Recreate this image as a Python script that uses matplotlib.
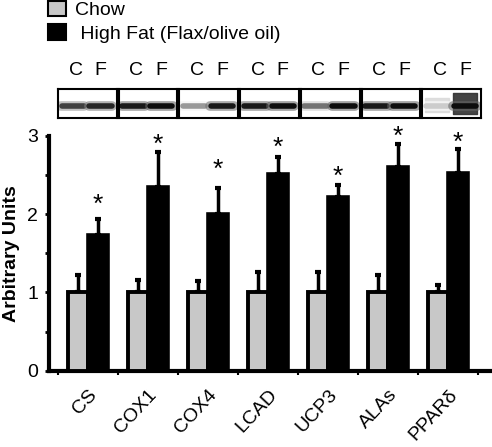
import numpy as np
import matplotlib
matplotlib.use("Agg")
import matplotlib.pyplot as plt
from matplotlib.patches import Patch

plt.rcParams['font.family'] = ['Liberation Sans', 'DejaVu Sans']

# data
genes = ['CS', 'COX1', 'COX4', 'LCAD', 'UCP3', 'ALAs', 'PPAR\u03b4']
chow = [1.0, 1.0, 1.0, 1.0, 1.0, 1.01, 1.0]
chow_err = [0.22, 0.16, 0.14, 0.26, 0.26, 0.21, 0.09]
high_fat = [1.73, 2.34, 2.0, 2.51, 2.22, 2.60, 2.52]
high_fat_err = [0.21, 0.45, 0.33, 0.22, 0.15, 0.30, 0.31]
star_y = [2.12, 2.88, 2.56, 2.84, 2.48, 2.98, 2.91]

# western blot band darkness (0 = none, 1 = black), chow lane / fat lane
band_chow = [0.75, 0.9, 0.4, 0.9, 0.55, 0.9, 0.2]
band_fat = [0.85, 0.95, 0.9, 0.95, 0.95, 0.95, 0.95]
lane_labels = ['C', 'F']

W, H = 492, 447
fig = plt.figure(figsize=(W / 100, H / 100), dpi=100)

# main bar chart
ax = fig.add_axes([49 / W, 1 - 370.7 / H, 441 / W, (370.7 - 135.7) / H])
x = np.arange(len(genes))
bw = 0.34
ax.bar(x - bw / 2, chow, bw, color='#c8c8c8', edgecolor='black', linewidth=2.8, zorder=3)
ax.bar(x + bw / 2, high_fat, bw, color='black', edgecolor='black', linewidth=2.6, zorder=3)
ax.errorbar(x - bw / 2, chow, yerr=[np.zeros(len(chow)), chow_err], fmt='none',
            ecolor='black', elinewidth=2.5, capsize=2.2, capthick=3, zorder=2)
ax.errorbar(x + bw / 2, high_fat, yerr=[np.zeros(len(high_fat)), high_fat_err], fmt='none',
            ecolor='black', elinewidth=2.5, capsize=2.2, capthick=3, zorder=2)
for xi, yi in zip(x, star_y):
    ax.text(xi + bw / 2, yi, '*', ha='center', va='center', fontsize=19, clip_on=False)

ax.set_xlim(-0.65, 6.7)
ax.set_ylim(0, 3)
ax.set_yticks([0, 1, 2, 3])
ax.set_yticks(np.arange(0.5, 3, 1.0), minor=True)
ax.set_xticks(x)
ax.set_xticklabels(genes, rotation=47, ha='right', rotation_mode='anchor', fontsize=14)
ax.set_xticks(np.arange(-0.5, 7, 1.0), minor=True)
ax.tick_params(axis='x', which='major', length=0, pad=11)
ax.tick_params(axis='x', which='minor', length=3, width=1.5, direction='out')
ax.tick_params(axis='y', which='both', length=3, width=2, direction='out', labelsize=14, pad=5)
for s in ['top', 'right']:
    ax.spines[s].set_visible(False)
for s in ['left', 'bottom']:
    ax.spines[s].set_linewidth(3)
ax.set_ylabel('Arbitrary Units', fontsize=14, fontweight='bold', labelpad=5)

# legend
handles = [Patch(facecolor='#c8c8c8', edgecolor='black', linewidth=1.5),
           Patch(facecolor='black', edgecolor='black', linewidth=1.5)]
fig.legend(handles, ['Chow', ' High Fat (Flax/olive oil)'], loc='upper left',
           bbox_to_anchor=(47 / W, 1.0), frameon=False, fontsize=14,
           handlelength=0.95, handleheight=0.85, handletextpad=0.45,
           labelspacing=0.25, borderaxespad=0.0, borderpad=0.05)

# western blot strips
left, right = 57, 482
step = (right - left) / len(genes)
for i in range(len(genes)):
    bx = fig.add_axes([(left + i * step + 1) / W, 1 - 118 / H, (step - 2) / W, 29 / H])
    bx.set_xlim(0, 2)
    bx.set_ylim(0, 1)
    for lane, dark in zip([0.5, 1.45], [band_chow[i], band_fat[i]]):
        g = 1 - dark
        bx.plot([lane - 0.4, lane + 0.4], [0.4, 0.4], color=str(min(1, g + 0.35)),
                lw=7, solid_capstyle='round', alpha=0.6)
        bx.plot([lane - 0.38, lane + 0.38], [0.4, 0.4], color=str(g), lw=4,
                solid_capstyle='round')
    if i == len(genes) - 1:
        bx.fill_between([1.05, 1.85], 0.15, 0.85, color='#303030', alpha=0.9)
        bx.fill_between([0.1, 0.9], 0.2, 0.7, color='#d8d8d8', alpha=0.8)
    bx.set_yticks([])
    bx.set_xticks([0.6, 1.45])
    bx.set_xticklabels(lane_labels, fontsize=14)
    bx.xaxis.tick_top()
    bx.tick_params(axis='x', length=0, pad=7)
    for s in bx.spines.values():
        s.set_linewidth(1.5)

fig.savefig('out.png', dpi=100)
